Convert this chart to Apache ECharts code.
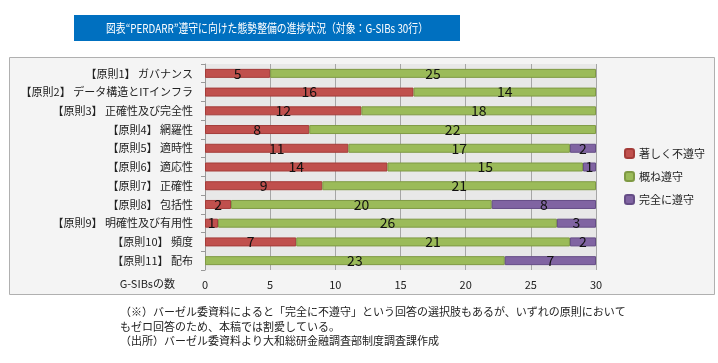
<!DOCTYPE html>
<html><head><meta charset="utf-8">
<script src="https://cdn.jsdelivr.net/npm/echarts@6/dist/echarts.min.js"></script>
<style>html,body{margin:0;padding:0;background:#fff}#c{width:718px;height:363px}</style>
</head><body><div id="c"></div>
<script>
const categories = ['【原則1】 ガバナンス','【原則2】 データ構造とITインフラ','【原則3】 正確性及び完全性','【原則4】 網羅性','【原則5】 適時性','【原則6】 適応性','【原則7】 正確性','【原則8】 包括性','【原則9】 明確性及び有用性','【原則10】 頻度','【原則11】 配布'];
const seriesNames = ['著しく不遵守','概ね遵守','完全に遵守'];
const severe = [5,16,12,8,11,14,9,2,1,7,0];
const mostly = [25,14,18,22,17,15,21,20,26,21,23];
const fully = [0,0,0,0,2,1,0,8,3,2,7];
const xTicks = [0,5,10,15,20,25,30];
const titleText = '図表“PERDARR”遵守に向けた態勢整備の進捗状況（対象：G-SIBs 30行）';
const notes = ['（※）バーゼル委資料によると「完全に不遵守」という回答の選択肢もあるが、いずれの原則において','もゼロ回答のため、本稿では割愛している。','（出所）バーゼル委資料より大和総研金融調査部制度調査課作成'];
const axisName = 'G-SIBsの数';

const font = '"Noto Sans CJK JP", "Noto Sans", sans-serif';
const colors = ['#c0504d','#9bbb59','#8064a2'];
const borders = ['#a43c39','#7f9a44','#654d86'];
const chart = echarts.init(document.getElementById('c'));
function mk(i, data){
  return {
    name: seriesNames[i], type:'bar', stack:'s', barWidth:9,
    data:data.map(v=>v>0?v:'-'),
    itemStyle:{color:colors[i], borderColor:borders[i], borderWidth:1},
    label:{show:true, position:'inside', color:'#111', fontSize:14, fontFamily:font},
    emphasis:{disabled:true}
  };
}
chart.setOption({
  animation:false,
  textStyle:{fontFamily:font},
  graphic:[
    {type:'rect', shape:{x:9.5,y:57.5,width:705,height:237}, style:{fill:'#f4f4f4', stroke:'#b0b0b0', lineWidth:1}, z:-10},
    {type:'rect', shape:{x:74,y:15,width:386,height:26}, style:{fill:'#0070c0'}, z:-10},
    {type:'text', x:267, y:28, scaleX:0.82, style:{text:titleText, fill:'#fff', fontSize:12, fontFamily:font, textAlign:'center', textVerticalAlign:'middle'}},
    {type:'text', x:120, y:312, style:{text:notes[0], fill:'#222', fontSize:11, fontFamily:font, textVerticalAlign:'middle'}},
    {type:'text', x:120, y:327, style:{text:notes[1], fill:'#222', fontSize:11, fontFamily:font, textVerticalAlign:'middle'}},
    {type:'text', x:120, y:341, style:{text:notes[2], fill:'#222', fontSize:11, fontFamily:font, textVerticalAlign:'middle'}},
    {type:'text', x:175, y:284, style:{text:axisName, fill:'#222', fontSize:11, fontFamily:font, textAlign:'right', textVerticalAlign:'middle'}}
  ],
  grid:{left:205, right:122, top:64, bottom:93, show:true, backgroundColor:'#e8e8e8', borderWidth:0},
  legend:{orient:'vertical', left:619, top:143, itemWidth:9, itemHeight:9, itemGap:12,
    textStyle:{fontSize:11, color:'#222', fontFamily:font}, data:seriesNames},
  xAxis:{type:'value', min:0, max:30, interval:5,
    axisLine:{show:false}, axisTick:{show:false},
    axisLabel:{fontSize:11, color:'#222', margin:9, formatter:v=>xTicks.includes(v)?String(v):''},
    splitLine:{lineStyle:{color:'#a6a6a6', width:1}}},
  yAxis:{type:'category', inverse:true, data:categories,
    axisLine:{lineStyle:{color:'#999'}}, axisTick:{show:true, length:4, lineStyle:{color:'#999'}},
    axisLabel:{fontSize:11, color:'#222', margin:12}},
  series:[mk(0,severe), mk(1,mostly), mk(2,fully)]
});
</script></body></html>
